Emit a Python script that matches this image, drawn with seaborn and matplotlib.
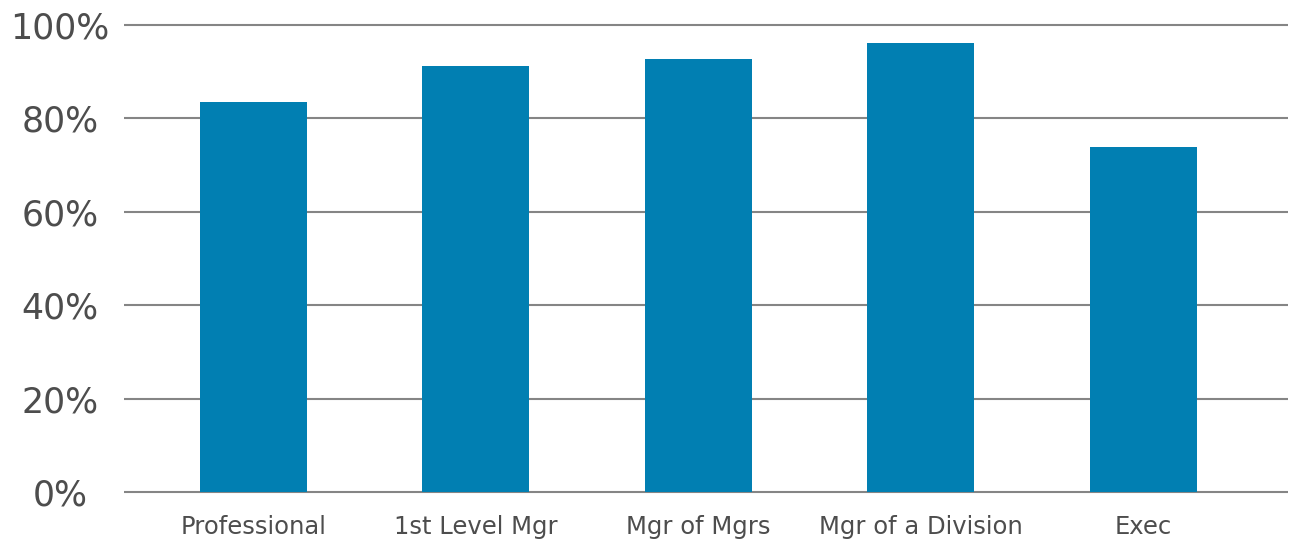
import matplotlib
matplotlib.use("Agg")
import matplotlib.pyplot as plt
import seaborn as sns
import pandas as pd
from matplotlib.ticker import FuncFormatter

# Share of respondents by role level
roles = ["Professional", "1st Level Mgr", "Mgr of Mgrs", "Mgr of a Division", "Exec"]
shares = [0.835, 0.912, 0.927, 0.961, 0.739]
y_ticks = [0.0, 0.2, 0.4, 0.6, 0.8, 1.0]

bar_color = "#017fb2"
text_color = "#4d4d4d"
grid_color = "#858585"

sns.set_theme(style="white")
plt.rcParams["font.family"] = ["DejaVu Sans"]

df = pd.DataFrame({"role": roles, "share": shares})

fig = plt.figure(figsize=(12.92, 5.44), dpi=100)
ax = fig.add_axes([0.096, 0.087, 0.901, 0.8756])

sns.barplot(data=df, x="role", y="share", color=bar_color, saturation=1,
            width=0.48, linewidth=0, ax=ax, zorder=3)

ax.set_ylim(-0.01, 1.01)
ax.set_xlim(-0.58, 4.65)
ax.set_yticks(y_ticks)
ax.yaxis.set_major_formatter(FuncFormatter(lambda v, _: f"{v * 100:.0f}%"))
ax.grid(axis="y", color=grid_color, linewidth=1.5, zorder=0)
ax.grid(axis="x", visible=False)

for s in ax.spines.values():
    s.set_visible(False)

ax.set_xlabel("")
ax.set_ylabel("")
ax.tick_params(axis="y", length=0, pad=46, labelsize=25, labelcolor=text_color)
ax.tick_params(axis="x", length=0, pad=13, labelsize=17.5, labelcolor=text_color)
for lbl in ax.get_yticklabels():
    lbl.set_horizontalalignment("center")

fig.savefig("out.png", dpi=100, facecolor="white")
